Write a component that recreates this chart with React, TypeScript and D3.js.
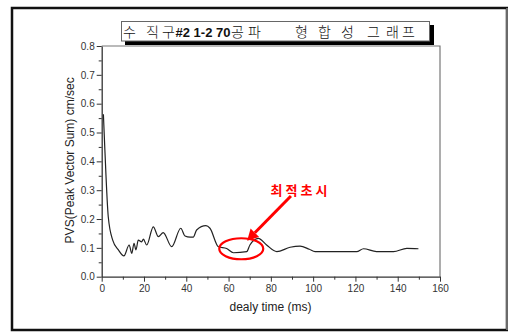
import React, { useEffect, useRef } from 'react';
import * as d3 from 'd3';

// delay time (ms) and PVS (cm/sec)
const delayMs = [0.8, 1.5, 3.1, 5.2, 7.9, 10.5, 13, 14.2, 15.3, 16.2, 17.3, 18.9, 19.7, 21.3, 24.4, 26.8, 29.1, 33.1, 37.4, 39.4, 41.8, 43.3, 44.9, 49.3, 51.2, 55.2, 59.1, 62.3, 68.6, 70.1, 74.1, 78, 82.8, 89.1, 93.8, 98.2, 100.9, 110, 120.6, 123.8, 130, 138, 144.3, 149.8];
const pvs = [0.563, 0.44, 0.208, 0.127, 0.093, 0.072, 0.11, 0.081, 0.116, 0.093, 0.127, 0.121, 0.13, 0.11, 0.173, 0.139, 0.153, 0.104, 0.168, 0.141, 0.137, 0.137, 0.162, 0.177, 0.168, 0.104, 0.098, 0.083, 0.087, 0.11, 0.133, 0.11, 0.087, 0.102, 0.106, 0.095, 0.087, 0.087, 0.087, 0.097, 0.087, 0.087, 0.098, 0.097];

const xTicks = [0, 20, 40, 60, 80, 100, 120, 140, 160];
const yTicks = [0.0, 0.1, 0.2, 0.3, 0.4, 0.5, 0.6, 0.7, 0.8];

// title pieces; Korean glyphs are thin, the numbers bold
const titleParts = [
  { t: '수', bold: false }, { t: '직', bold: false }, { t: '구', bold: false },
  { t: '#2 1-2 70', bold: true },
  { t: '공', bold: false }, { t: '파', bold: false },
  { t: '형', bold: false }, { t: '합', bold: false }, { t: '성', bold: false },
  { t: '그', bold: false }, { t: '래', bold: false }, { t: '프', bold: false },
];
const titleX = [123, 146, 162, 175.5, 231, 248, 295, 318, 341, 367, 386, 402];

const noteText = '최적초시';
// annotation anchors in data units
const ellipseAt = { x: 66, y: 0.097 };
const arrowFrom = { x: 89.5, y: 0.28 };
const arrowTo = { x: 68.8, y: 0.125 };
const noteAt = { x: 94, y: 0.283 };

export default function App() {
  const svgRef = useRef<SVGSVGElement>(null);

  useEffect(() => {
    const svg = d3.select(svgRef.current);
    svg.selectAll('*').remove();

    const left = 101.7, right = 440, top = 46, bottom = 276.7;
    const x = d3.scaleLinear().domain([0, 160]).range([left, right]);
    const y = d3.scaleLinear().domain([0, 0.8]).range([bottom, top]);

    // outer frame
    svg.append('rect').attr('x', 12).attr('y', 8).attr('width', 495).attr('height', 322)
      .attr('fill', 'white').attr('stroke', '#111').attr('stroke-width', 2.5);
    svg.append('line').attr('x1', 507).attr('x2', 507).attr('y1', 8).attr('y2', 330)
      .attr('stroke', '#888').attr('stroke-width', 1.5);

    // plot frame top/right
    svg.append('path')
      .attr('d', `M${left},${top}H${right}V${bottom}`)
      .attr('fill', 'none').attr('stroke', '#777').attr('stroke-width', 1.2);

    const axisColor = '#333';
    const tickFont = 'Liberation Sans, Arial, sans-serif';

    // x axis
    const gx = svg.append('g').attr('transform', `translate(0,${bottom})`)
      .call(d3.axisBottom(x).tickValues(xTicks).tickSize(5).tickSizeOuter(0).tickPadding(3));
    gx.append('g').call(d3.axisBottom(x).tickValues(d3.range(10, 160, 20)).tickSize(3).tickFormat(() => ''))
      .select('.domain').remove();
    // y axis
    const gy = svg.append('g').attr('transform', `translate(${left},0)`)
      .call(d3.axisLeft(y).tickValues(yTicks).tickSize(5).tickSizeOuter(0).tickPadding(2).tickFormat(d3.format('.1f')));
    gy.append('g').call(d3.axisLeft(y).tickValues(d3.range(0.05, 0.8, 0.1)).tickSize(3).tickFormat(() => ''))
      .select('.domain').remove();

    [gx, gy].forEach(g => {
      g.selectAll('.domain').attr('stroke', axisColor).attr('stroke-width', 1.3);
      g.selectAll('line').attr('stroke', axisColor).attr('stroke-width', 1);
      g.selectAll('text').attr('fill', '#333').style('font-family', tickFont).style('font-size', '10px');
    });

    svg.append('text').attr('x', 270.5).attr('y', 311).attr('text-anchor', 'middle')
      .style('font-family', tickFont).style('font-size', '12px').attr('fill', '#222')
      .text('dealy time (ms)');
    svg.append('text').attr('transform', `translate(74,${(top + bottom) / 2 - 1}) rotate(-90)`)
      .attr('text-anchor', 'middle')
      .style('font-family', tickFont).style('font-size', '12px').attr('fill', '#222')
      .text('PVS(Peak Vector Sum) cm/sec');

    // data curve
    const line = d3.line<number>().x((_, i) => x(delayMs[i])).y(d => y(d)).curve(d3.curveMonotoneX);
    svg.append('path').datum(pvs).attr('d', line)
      .attr('fill', 'none').attr('stroke', '#222').attr('stroke-width', 1.2);

    // annotation
    const red = '#ff0000';
    svg.append('ellipse').attr('cx', x(ellipseAt.x)).attr('cy', y(ellipseAt.y)).attr('rx', 22).attr('ry', 10.5)
      .attr('fill', 'none').attr('stroke', red).attr('stroke-width', 2.2);
    const x1 = x(arrowFrom.x), y1 = y(arrowFrom.y), x2 = x(arrowTo.x), y2 = y(arrowTo.y);
    const ang = Math.atan2(y2 - y1, x2 - x1);
    const hl = 11, hw = 6;
    const bx = x2 - hl * Math.cos(ang), by = y2 - hl * Math.sin(ang);
    svg.append('line').attr('x1', x1).attr('y1', y1).attr('x2', bx).attr('y2', by)
      .attr('stroke', red).attr('stroke-width', 3);
    svg.append('path')
      .attr('d', `M${x2},${y2}L${bx + hw * Math.sin(ang)},${by - hw * Math.cos(ang)}L${bx - hw * Math.sin(ang)},${by + hw * Math.cos(ang)}Z`)
      .attr('fill', red);
    svg.append('text').attr('x', x(noteAt.x)).attr('y', y(noteAt.y)).attr('text-anchor', 'middle')
      .style('font-family', 'Noto Sans CJK KR').style('font-weight', 'bold').style('font-size', '13px')
      .style('letter-spacing', '3px').attr('fill', red).text(noteText);

    // title box with shadow
    svg.append('rect').attr('x', 125).attr('y', 25).attr('width', 309).attr('height', 20).attr('fill', '#000');
    svg.append('rect').attr('x', 121.5).attr('y', 21.5).attr('width', 308).attr('height', 19.5)
      .attr('fill', 'white').attr('stroke', '#666').attr('stroke-width', 1);
    const tt = svg.append('text').attr('y', 37).attr('fill', '#111').style('font-size', '14px');
    titleParts.forEach((p, i) => {
      tt.append('tspan')
        .attr('x', titleX[i])
        .style('font-family', p.bold ? 'Liberation Sans, Arial' : 'Noto Sans CJK KR')
        .style('font-weight', p.bold ? 'bold' : '300')
        .style('font-size', p.bold ? '13px' : '14px')
        .text(p.t);
    });
  }, []);

  return (
    <svg ref={svgRef} width={508} height={332} style={{ position: 'absolute', left: 0, top: 0, background: 'white' }} />
  );
}
